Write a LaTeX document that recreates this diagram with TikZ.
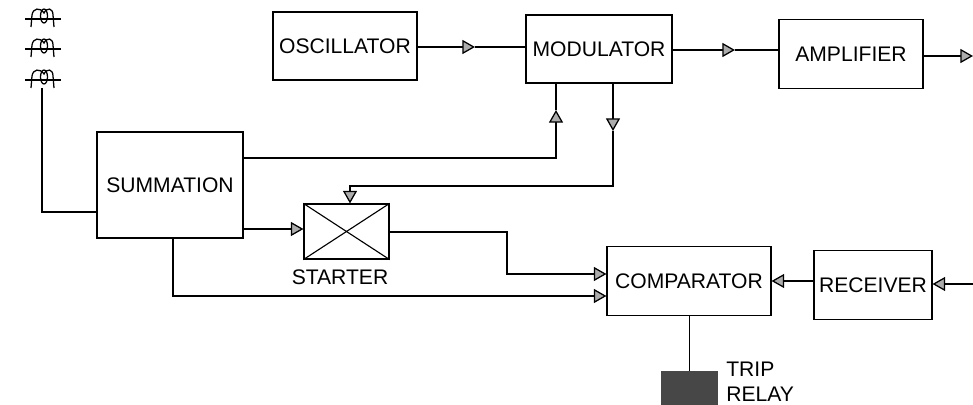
\documentclass[tikz,border=0pt]{standalone}
\usepackage{fontspec}
\setmainfont{Liberation Sans}
\usetikzlibrary{arrows.meta}

\tikzset{
	boxnode/.style={draw, rectangle, line width=0.8pt, inner sep=0pt},
	wire/.style={line width=0.8pt},
	flow/.style={line width=0.8pt, -{Triangle[length=9pt, width=10pt, fill=gray!65, line width=0.9pt]}},
	labeltext/.style={inner sep=0pt, align=left},
	ctcoil/.pic={
		\draw[line width=0.9pt] (-18,0) -- (18,0);
		\draw[line width=0.9pt] (-12,8) -- (-11,-4) .. controls (-10,-11) and (-3,-12) .. (1,-6) .. controls (4,-12) and (10,-11) .. (10,-4) -- (11,8);
		\draw[line width=0.9pt] (1,-3) ellipse [x radius=3.5, y radius=7];
	}
}

\begin{document}
\begin{tikzpicture}[x=0.025cm, y=-0.025cm, font=\fontsize{15}{18}\selectfont]
	\useasboundingbox (0,0) rectangle (973,405);

	% Current transformers
	\pic at (43,19) {ctcoil};
	\pic at (43,49) {ctcoil};
	\pic at (43,80) {ctcoil};
	\coordinate (ctout) at (42,88);

	% Upper row
	\node[boxnode, minimum width=144*0.025cm, minimum height=68*0.025cm] (osc) at (345,46) {OSCILLATOR};
	\node[boxnode, minimum width=146*0.025cm, minimum height=68*0.025cm] (mod) at (599,49) {MODULATOR};
	\node[boxnode, minimum width=144*0.025cm, minimum height=69*0.025cm] (amp) at (851,54) {AMPLIFIER};

	\coordinate (tiposc) at (475,47);
	\coordinate (tipmod) at (735,50);
	\coordinate (ampend) at (973,56);
	\draw[flow] (osc.east |- tiposc) -- (tiposc);
	\draw[wire] (tiposc) -- (mod.west |- tiposc);
	\draw[flow] (mod.east |- tipmod) -- (tipmod);
	\draw[wire] (tipmod) -- (amp.west |- tipmod);
	\draw[flow] (amp.east |- ampend) -- (ampend);

	% Summation and starter
	\node[boxnode, minimum width=146*0.025cm, minimum height=106*0.025cm] (sum) at (170,185) {SUMMATION};
	\node[boxnode, minimum width=85*0.025cm, minimum height=55*0.025cm] (start) at (346.5,231.5) {};
	\draw[wire] (start.north west) -- (start.south east);
	\draw[wire] (start.south west) -- (start.north east);
	\node[labeltext] (startlabel) at (340,277) {STARTER};

	\draw[wire] (ctout) |- (sum.west |- 0,212);

	\coordinate (tipup) at (556,110);
	\coordinate (tipdown) at (613,131);
	\draw[flow] (sum.east |- 0,158) -| (tipup);
	\draw[wire] (tipup) -- (mod.south -| tipup);
	\draw[flow] (mod.south -| tipdown) -- (tipdown);
	\draw[flow] (tipdown) |- (350,186) -- (start.north -| 350,0);
	\draw[flow] (sum.east |- 0,229) -- (start.west |- 0,229);

	% Comparator, receiver and relay
	\node[boxnode, minimum width=164*0.025cm, minimum height=69*0.025cm] (comp) at (689,281) {COMPARATOR};
	\node[boxnode, minimum width=118*0.025cm, minimum height=69*0.025cm] (recv) at (873,285) {RECEIVER};
	\node[rectangle, fill=black!72, minimum width=57*0.025cm, minimum height=34*0.025cm, inner sep=0pt] (trip) at (689.5,388) {};
	\node[labeltext, anchor=west] (triplabel) at (726,382) {TRIP\\RELAY};

	\coordinate (recvin) at (973,284);
	\draw[flow] (start.east |- 0,232) -- (507,232) |- (comp.west |- 0,274);
	\draw[flow] (sum.south -| 173,0) |- (comp.west |- 0,296);
	\draw[flow] (recv.west |- 0,281) -- (comp.east |- 0,281);
	\draw[flow] (recvin) -- (recv.east |- recvin);
	\draw[wire] (comp.south -| trip) -- (trip.north);
\end{tikzpicture}
\end{document}
